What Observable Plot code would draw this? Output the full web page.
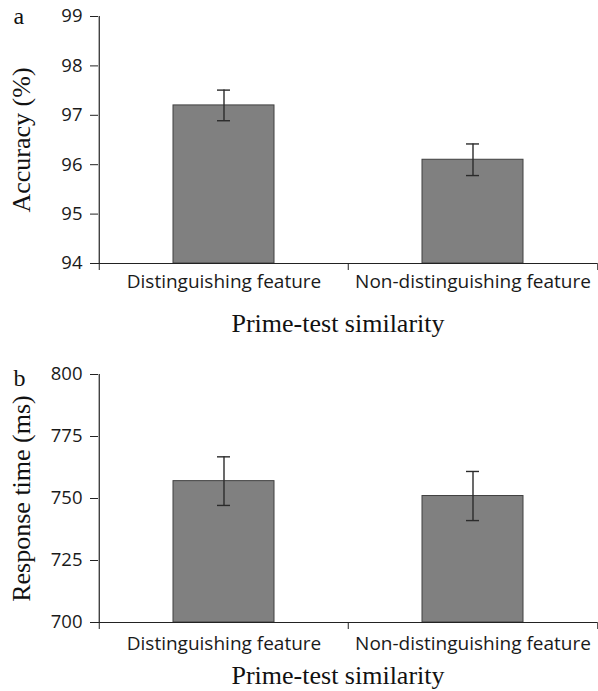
<!DOCTYPE html>
<html>
<head>
<meta charset="utf-8">
<script src="https://cdn.jsdelivr.net/npm/d3@7"></script>
<script src="https://cdn.jsdelivr.net/npm/@observablehq/plot@0.6"></script>
<style>
  html, body { margin: 0; padding: 0; background: #fff; }
  #chart svg { display: block; }
</style>
</head>
<body>
<div id="chart"></div>
<script>
const categories = ["Distinguishing feature", "Non-distinguishing feature"];
const accuracy = [97.2, 96.1];
const accuracyErr = [0.31, 0.32];
const accuracyTicks = [94, 95, 96, 97, 98, 99];
const responseTime = [757, 751];
const responseTimeErr = [9.8, 9.9];
const responseTimeTicks = [700, 725, 750, 775, 800];

const W = 598, ML = 98, MR = 1;
const halfStep = (W - ML - MR) / categories.length / 2;
const sans = "'Open Sans', Lato, sans-serif";
const serif = "'Liberation Serif', 'Times New Roman', serif";

function panel({letter, values, errs, ticks, yTitle, height, marginTop, marginBottom, catPad, titleDy, letterDy}) {
  const dom = [ticks[0], ticks[ticks.length - 1]];
  const rows = categories.map((c, i) => ({cat: c, v: values[i], e: errs[i]}));
  return Plot.plot({
    width: W, height, marginLeft: ML, marginRight: MR, marginTop, marginBottom,
    style: {fontFamily: sans, background: "#fff", color: "#222"},
    x: {domain: categories, paddingInner: 0.595, paddingOuter: 0.2975},
    y: {domain: dom},
    marks: [
      Plot.barY(rows, {x: "cat", y1: dom[0], y2: "v", fill: "#808080", stroke: "#404040", strokeWidth: 1}),
      Plot.ruleX(rows, {x: "cat", y1: d => d.v - d.e, y2: d => d.v + d.e, stroke: "#2b2b2b", strokeWidth: 1.4}),
      Plot.tickY(rows, {x: "cat", y: d => d.v + d.e, insetLeft: 44, insetRight: 44, stroke: "#2b2b2b", strokeWidth: 1.4}),
      Plot.tickY(rows, {x: "cat", y: d => d.v - d.e, insetLeft: 44, insetRight: 44, stroke: "#2b2b2b", strokeWidth: 1.4}),
      Plot.ruleY([dom[0]], {stroke: "#222", strokeWidth: 1.2}),
      Plot.ruleX([categories[0]], {dx: -halfStep, y1: dom[0], y2: dom[1], stroke: "#222", strokeWidth: 1.2}),
      Plot.axisX(categories, {tickSize: 7, dx: -halfStep, tickFormat: () => "", label: null, stroke: "#222"}),
      Plot.axisX([categories[categories.length - 1]], {tickSize: 7, dx: halfStep, tickFormat: () => "", label: null, stroke: "#222"}),
      Plot.axisX({tickSize: 0, tickPadding: catPad, fontSize: 19, fontFamily: sans, fill: "#1a1a1a", label: null}),
      Plot.axisY(ticks, {tickSize: 8, tickPadding: 8, fontSize: 18.5, fontFamily: sans, fill: "#1a1a1a", stroke: "#222", label: null}),
      Plot.text([yTitle], {frameAnchor: "left", dx: -77, rotate: -90, text: d => d, fontFamily: serif, fontSize: 26, fill: "#111", lineAnchor: "middle", textAnchor: "middle"}),
      Plot.text(["Prime-test similarity"], {frameAnchor: "bottom", dx: -10, dy: titleDy, text: d => d, fontFamily: serif, fontSize: 26, fill: "#111", lineAnchor: "bottom", textAnchor: "middle"}),
      Plot.text([letter], {frameAnchor: "top-left", dx: -85, dy: letterDy, text: d => d, fontFamily: serif, fontSize: 24, fill: "#111", lineAnchor: "bottom", textAnchor: "start"})
    ]
  });
}

const chart = document.getElementById("chart");
chart.appendChild(panel({
  letter: "a", values: accuracy, errs: accuracyErr, ticks: accuracyTicks, yTitle: "Accuracy (%)",
  height: 340, marginTop: 16, marginBottom: 77, catPad: 11, titleDy: 68, letterDy: 7
}));
chart.appendChild(panel({
  letter: "b", values: responseTime, errs: responseTimeErr, ticks: responseTimeTicks, yTitle: "Response time (ms)",
  height: 351, marginTop: 34, marginBottom: 69, catPad: 14, titleDy: 61, letterDy: 11
}));
</script>
</body>
</html>
